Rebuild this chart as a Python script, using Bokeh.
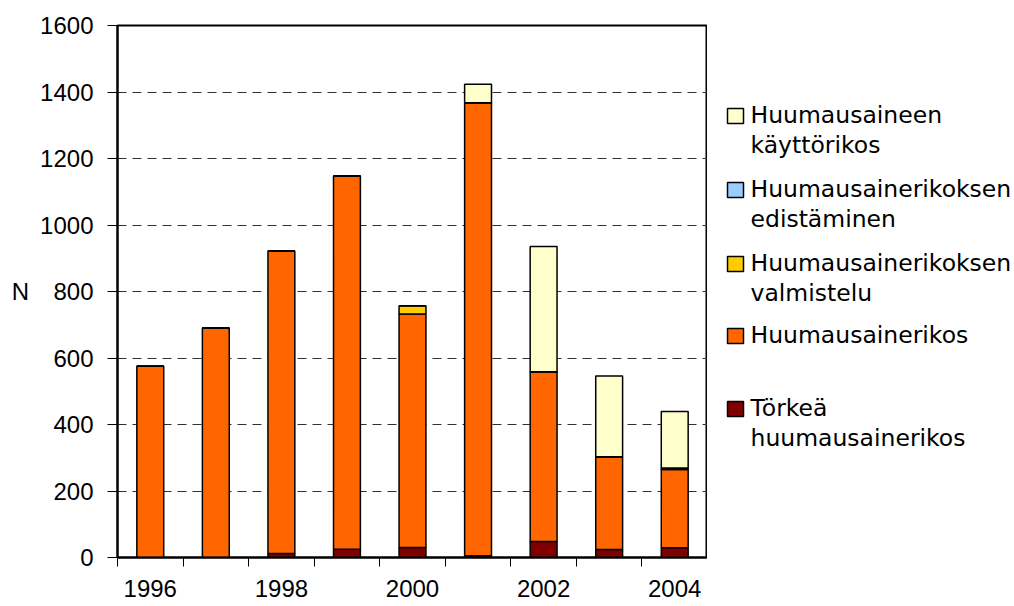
from bokeh.plotting import figure
from bokeh.models import ColumnDataSource, FixedTicker, Range1d
from bokeh.layouts import row
from bokeh.core.properties import value
from bokeh.embed import file_html
from bokeh.resources import INLINE

years = ["1996", "1997", "1998", "1999", "2000", "2001", "2002", "2003", "2004"]
torkea = [0, 0, 12, 25, 30, 5, 48, 24, 29]
huumausainerikos = [575, 690, 910, 1122, 702, 1363, 511, 279, 236]
valmistelu = [0, 0, 0, 0, 25, 0, 0, 0, 4]
edistaminen = [0, 0, 0, 0, 0, 0, 0, 0, 0]
kaytto = [0, 0, 0, 0, 0, 55, 376, 243, 170]

series_names = ["Törkeä\nhuumausainerikos", "Huumausainerikos", "Huumausainerikoksen\nvalmistelu",
                "Huumausainerikoksen\nedistäminen", "Huumausaineen\nkäyttörikos"]
colors = ["#800000", "#FF6600", "#FFCC00", "#99CCFF", "#FFFFCC"]
y_ticks = [0, 200, 400, 600, 800, 1000, 1200, 1400, 1600]

FONT = "Liberation Sans"
LEGEND_FONT = "DejaVu Sans"

src = ColumnDataSource(dict(
    x=[i + 0.5 for i in range(len(years))],
    torkea=torkea, huum=huumausainerikos, valm=valmistelu, edist=edistaminen, kaytto=kaytto,
))

p = figure(width=707, height=606, x_range=(0, len(years)), y_range=(0, 1600),
           output_backend="svg", toolbar_location=None, title=None,
           frame_width=590, frame_height=532,
           min_border_left=117, min_border_top=25, min_border_right=0, min_border_bottom=49)

renderers = p.vbar_stack(["torkea", "huum", "valm", "edist", "kaytto"], x="x", width=0.41,
                         source=src, fill_color=colors, line_color="black", line_width=1.5)

# axes
p.xaxis.ticker = FixedTicker(ticks=[0.5, 2.5, 4.5, 6.5, 8.5], minor_ticks=list(range(0, 10)))
p.xaxis.major_label_overrides = {i + 0.5: years[i] for i in range(0, len(years), 2)}
p.xaxis.major_tick_line_color = None
p.xaxis.minor_tick_in = 0
p.xaxis.minor_tick_out = 9
p.xaxis.minor_tick_line_color = "black"
p.xaxis.major_label_standoff = 13

p.yaxis.ticker = FixedTicker(ticks=y_ticks)
p.yaxis.minor_tick_line_color = None
p.yaxis.major_tick_in = 0
p.yaxis.major_tick_out = 10
p.yaxis.major_label_standoff = 14
p.yaxis.axis_label = "N"
p.yaxis.axis_label_orientation = "horizontal"
p.yaxis.axis_label_standoff = 8
p.yaxis.axis_label_text_font_style = "normal"

for ax in (p.xaxis, p.yaxis):
    ax.axis_line_color = "black"
    ax.axis_line_width = 2
    ax.major_label_text_font = FONT
    ax.major_label_text_font_size = "24px"
    ax.major_label_text_color = "black"
    ax.axis_label_text_font = FONT
    ax.axis_label_text_font_size = "24px"
    ax.axis_label_text_color = "black"

p.xgrid.grid_line_color = None
p.ygrid.ticker = FixedTicker(ticks=y_ticks)
p.ygrid.grid_line_color = "#333333"
p.ygrid.grid_line_dash = "9 6"
p.ygrid.grid_line_width = 1

p.outline_line_color = "black"
p.outline_line_width = 2
p.background_fill_color = "white"
p.border_fill_color = "white"

# legend panel: its frame is aligned with the main frame (page y 25..557),
# so the y range is expressed in page pixels (downwards)
lg = figure(width=307, height=606, x_range=Range1d(707, 1014), y_range=Range1d(557, 25),
            output_backend="svg", toolbar_location=None, title=None,
            frame_width=307, frame_height=532,
            x_axis_location=None, y_axis_location=None,
            min_border_left=0, min_border_right=0, min_border_top=25, min_border_bottom=49)
lg.grid.visible = False
lg.outline_line_color = None
lg.background_fill_color = "white"
lg.border_fill_color = "white"

entry_base = [123, 197, 271, 343, 416]
sw_l, sw_r = [], []
sw_top, sw_bot, sw_col = [], [], []
tx, ty, tt = [], [], []
for k, idx in enumerate(range(4, -1, -1)):
    base = entry_base[k]
    sw_top.append(base - 15)
    sw_bot.append(base)
    sw_l.append(727)
    sw_r.append(743)
    sw_col.append(colors[idx])
    for j, line in enumerate(series_names[idx].split("\n")):
        tx.append(750)
        ty.append(base - 9 + 30 * j)
        tt.append(line)

lg.quad(left=sw_l, right=sw_r, top=sw_top, bottom=sw_bot, fill_color=sw_col,
        line_color="black", line_width=1.5)
lg.text(x=tx, y=ty, text=tt, text_font=value(LEGEND_FONT), text_font_size="23.5px",
        text_baseline="alphabetic", text_align="left", text_color="black")

layout = row(p, lg, spacing=0)
open("out.html", "w").write(file_html(layout, INLINE))
